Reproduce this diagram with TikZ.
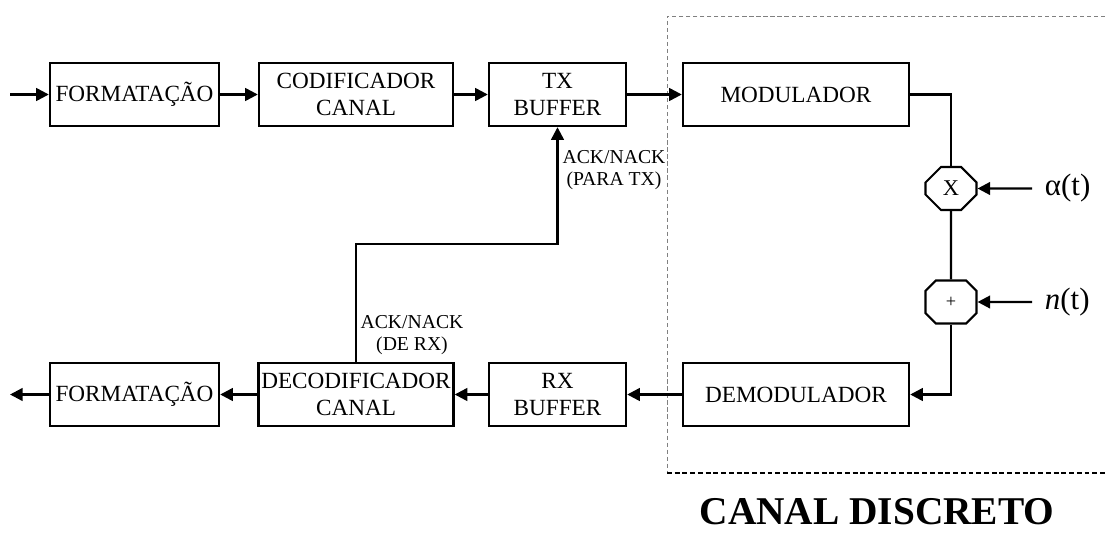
\documentclass[tikz,border=0pt]{standalone}
\usepackage{fontspec}
\setmainfont{Liberation Serif}
\usepackage{tikz}
\usetikzlibrary{arrows.meta,positioning,shapes.misc}

\begin{document}
\begin{tikzpicture}[
      blk/.style={draw,line width=1.7pt,minimum width=#1,minimum height=1.575cm,align=center,inner xsep=0pt,font=\fontsize{16.5}{19.5}\selectfont},
      blk/.default=4.225cm,
      mix/.style={draw,line width=1.5pt,chamfered rectangle,chamfered rectangle xsep=0.25cm,chamfered rectangle ysep=0.27cm,minimum width=1.275cm,minimum height=1.075cm,inner sep=0pt},
      sig/.style={anchor=west,inner xsep=9pt,font=\fontsize{22}{26}\selectfont},
      ack/.style={align=center,inner sep=1pt,font=\fontsize{14}{15.5}\selectfont},
      con/.style={line width=1.7pt},
      arr/.style={-{Triangle[length=9pt,width=9pt]},line width=1.7pt}
    ]
    \useasboundingbox[fill=white] (0,0) rectangle (27.625,-13.45);
    \draw[gray,line width=0.6pt,dash pattern=on 3pt off 2pt] (27.625,-0.4) -- (16.675,-0.4) -- (16.675,-11.825);
    \draw[line width=1.5pt,dash pattern=on 3.5pt off 2pt] (16.675,-11.825) -- (27.625,-11.825);
    \node[font=\fontsize{28}{32}\selectfont\bfseries,anchor=base,inner sep=0pt] (canal) at (21.925,-13.1) {CANAL DISCRETO};

    \coordinate (in) at (0.25,-2.3625);
    \coordinate (out) at (0.25,-9.8625);
    \node[blk]        (fmt1) at (3.3625,-2.3625) {FORMATAÇÃO};
    \node[blk=4.85cm]  (cod) at (8.9,-2.3625) {CODIFICADOR\\CANAL};
    \node[blk=3.425cm] (txb) at (13.9375,-2.3625) {TX\\BUFFER};
    \node[blk=5.65cm]  (mod) at (19.9,-2.3625) {MODULADOR};
    \node[mix] (mult) at (23.775,-4.7125) {\fontsize{16}{18}\selectfont X};
    \node[mix] (add) at (23.775,-7.55) {\fontsize{13}{15}\selectfont +};
    \node[sig] (alpha) at (25.8,-4.7125) {α(t)};
    \node[sig] (noise) at (25.8,-7.55) {\textit{n}(t)};
    \node[blk=5.65cm]  (demod) at (19.9,-9.8625) {DEMODULADOR};
    \node[blk=3.425cm] (rxb) at (13.9375,-9.8625) {RX\\BUFFER};
    \node[blk=4.875cm] (dec) at (8.9,-9.8625) {DECODIFICADOR\\CANAL};
    \node[blk]        (fmt2) at (3.3625,-9.8625) {FORMATAÇÃO};
    \node[ack] (ackrx) at (10.3,-8.375) {ACK/NACK\\(DE RX)};
    \node[ack] (acktx) at (15.35,-4.25) {ACK/NACK\\(PARA TX)};

    \draw[arr] (in) -- (fmt1);
    \draw[arr] (fmt1) -- (cod);
    \draw[arr] (cod) -- (txb);
    \draw[arr] (txb) -- (mod);
    \draw[con] (mod.east) -| (mult.north);
    \draw[con] (mult) -- (add);
    \draw[arr] (alpha) -- (mult);
    \draw[arr] (noise) -- (add);
    \draw[arr] (add.south) |- (demod.east);
    \draw[arr] (demod) -- (rxb);
    \draw[arr] (rxb) -- (dec);
    \draw[arr] (dec) -- (fmt2);
    \draw[arr] (fmt2) -- (out);
    \draw[arr] (dec.north) -- (dec.north |- 0,-6.1) -| (txb.south);
  \end{tikzpicture}
\end{document}
